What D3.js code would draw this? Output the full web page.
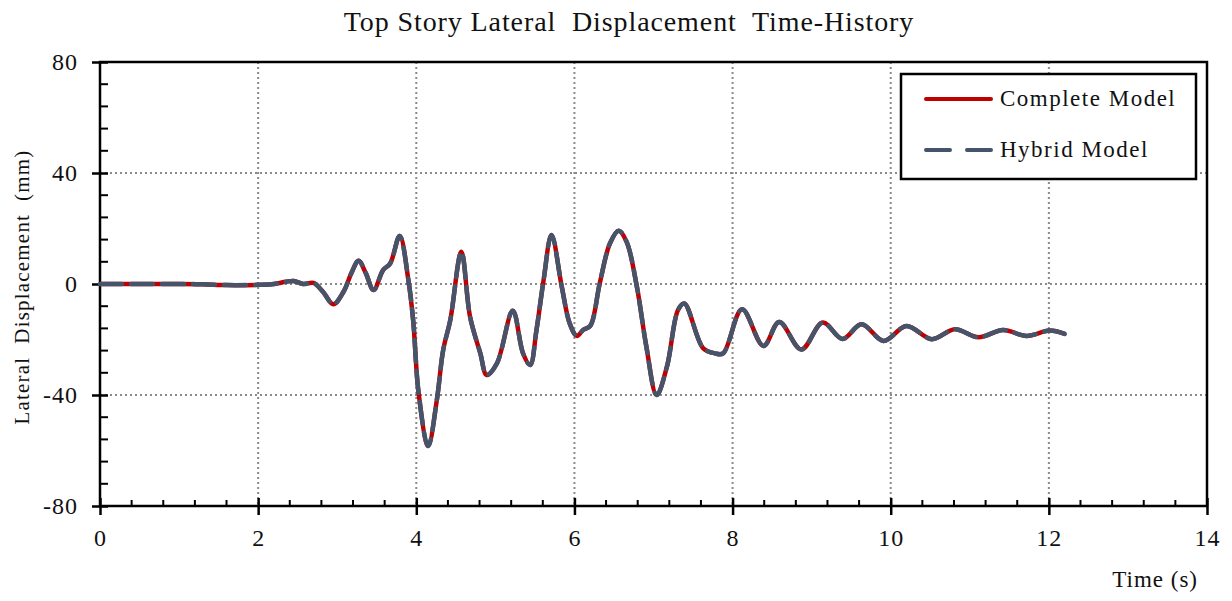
<!DOCTYPE html>
<meta charset="utf-8">
<style>
    body { margin: 0; background: #fff; }
    text { font-family: "Liberation Serif", "DejaVu Serif", serif; fill: #111; }
</style>
<svg width="1232" height="601"></svg>
<script src="https://d3js.org/d3.v7.min.js"></script>
<script>

    // time (s)
    var timeS = [0, 0.5, 1.0, 1.3, 1.6, 2.0, 2.2, 2.35, 2.45, 2.57, 2.7, 2.82, 2.95, 3.08, 3.18, 3.27, 3.36, 3.46,
        3.58, 3.67, 3.79, 3.9, 3.96, 4.03, 4.15, 4.26, 4.34, 4.43, 4.57, 4.68, 4.81, 4.89, 5.02, 5.22, 5.35, 5.44,
        5.52, 5.61, 5.71, 5.84, 5.94, 6.03, 6.11, 6.2, 6.32, 6.45, 6.56, 6.66, 6.79, 6.91, 7.04, 7.17, 7.31, 7.39,
        7.63, 7.78, 7.88, 8.12, 8.39, 8.59, 8.87, 9.14, 9.39, 9.63, 9.91, 10.2, 10.52, 10.81, 11.11, 11.42, 11.72,
        12.01, 12.2];

    // lateral displacement (mm)
    var completeMm = [0, 0, 0, -0.1, -0.4, -0.3, 0, 0.8, 1.1, 0, 0.4, -2.8, -7.3, -2.8, 4, 8.4, 4, -2.2,
        5, 7.4, 17.3, 1.4, -13, -39.4, -58.4, -41.8, -23.8, -13, 11.6, -11.8, -25, -32.8, -28.6, -9.6, -25, -29.2,
        -16.6, 1.4, 17.7, -1, -14.2, -18.7, -16.6, -15.1, 0.2, 14.7, 19.2, 15.2, -1, -22.6, -40, -29.8, -9.4, -7,
        -23.2, -25, -25, -9.1, -22.3, -13.7, -23.6, -13.9, -19.8, -14.5, -20.5, -15.1, -19.9, -16.3, -19.2, -16.6, -18.7,
        -16.8, -18];

    // hybrid model follows the complete model in the picture
    var hybridMm = completeMm.slice();

    var xTicks = [0, 2, 4, 6, 8, 10, 12, 14];
    var yTicks = [-80, -40, 0, 40, 80];
    var seriesNames = ["Complete Model", "Hybrid Model"];

    var svg = d3.select("svg"),
        margin = { top: 62, right: 25, bottom: 95, left: 100 },
        width = 1207 - margin.left,
        height = 506 - margin.top,
        g = svg.append("g").attr("transform", "translate(" + margin.left + "," + margin.top + ")");

    var x = d3.scaleLinear().domain([0, 14]).range([0, width]);
    var y = d3.scaleLinear().domain([-80, 80]).range([height, 0]);

    // dotted grid
    g.selectAll(".vgrid")
        .data(xTicks.filter(d => d > 0 && d < 14))
        .enter().append("line")
        .attr("x1", d => x(d)).attr("x2", d => x(d))
        .attr("y1", 0).attr("y2", height)
        .attr("stroke", "#8a8a8a").attr("stroke-width", 2).attr("stroke-dasharray", "2,3");
    g.selectAll(".hgrid")
        .data(yTicks.filter(d => d > -80 && d < 80))
        .enter().append("line")
        .attr("x1", 0).attr("x2", width)
        .attr("y1", d => y(d)).attr("y2", d => y(d))
        .attr("stroke", "#8a8a8a").attr("stroke-width", 2).attr("stroke-dasharray", "2,3");

    // frame
    g.append("rect")
        .attr("width", width).attr("height", height)
        .attr("fill", "none").attr("stroke", "#000").attr("stroke-width", 2.5);

    // minor ticks (inward)
    var xMinor = d3.range(0, 14.001, 0.4).filter(d => Math.abs(d / 2 - Math.round(d / 2)) > 0.01);
    g.selectAll(".xminor").data(xMinor).enter().append("line")
        .attr("x1", d => x(d)).attr("x2", d => x(d))
        .attr("y1", height).attr("y2", height - 6)
        .attr("stroke", "#000").attr("stroke-width", 2);
    var yMinor = d3.range(-80, 80.001, 8).filter(d => d % 40 !== 0);
    g.selectAll(".yminor").data(yMinor).enter().append("line")
        .attr("x1", 0).attr("x2", 8)
        .attr("y1", d => y(d)).attr("y2", d => y(d))
        .attr("stroke", "#000").attr("stroke-width", 2);

    // axes with crossing major ticks
    var xAxis = g.append("g")
        .attr("transform", "translate(0," + height + ")")
        .call(d3.axisBottom(x).tickValues(xTicks).tickSize(9).tickPadding(14));
    xAxis.selectAll(".tick line").attr("y1", -8).attr("stroke-width", 2.5);
    xAxis.select(".domain").remove();
    xAxis.selectAll("text").attr("font-size", 24).attr("letter-spacing", 1)
        .style("font-family", "Liberation Serif").style("fill", "#111");

    var yAxis = g.append("g")
        .call(d3.axisLeft(y).tickValues(yTicks).tickSize(8).tickPadding(14)
            .tickFormat(d => String(d)));
    yAxis.selectAll(".tick line").attr("x1", 8).attr("stroke-width", 2.5);
    yAxis.select(".domain").remove();
    yAxis.selectAll("text").attr("font-size", 24).attr("letter-spacing", 1)
        .style("font-family", "Liberation Serif").style("fill", "#111");

    // series
    var line = d3.line()
        .x(d => x(d[0]))
        .y(d => y(d[1]))
        .curve(d3.curveCatmullRom.alpha(0.5));

    g.append("path")
        .datum(d3.zip(timeS, completeMm))
        .attr("d", line)
        .attr("fill", "none").attr("stroke", "#c00000").attr("stroke-width", 4.5)
        .attr("stroke-linejoin", "round");

    g.append("path")
        .datum(d3.zip(timeS, hybridMm))
        .attr("d", line)
        .attr("fill", "none").attr("stroke", "#44546a").attr("stroke-width", 4.5)
        .attr("stroke-dasharray", "22,9").attr("stroke-linecap", "round")
        .attr("stroke-linejoin", "round");

    // titles
    svg.append("text")
        .attr("x", 629).attr("y", 31)
        .attr("text-anchor", "middle").attr("font-size", 28)
        .attr("letter-spacing", 0.9)
        .attr("xml:space", "preserve")
        .text("Top Story Lateral  Displacement  Time-History");

    svg.append("text")
        .attr("transform", "translate(29,287) rotate(-90)")
        .attr("text-anchor", "middle").attr("font-size", 21)
        .attr("letter-spacing", 1.2)
        .attr("xml:space", "preserve")
        .text("Lateral  Displacement  (mm)");

    svg.append("text")
        .attr("x", 1198).attr("y", 587)
        .attr("text-anchor", "end").attr("font-size", 23)
        .attr("letter-spacing", 1)
        .text("Time (s)");

    // legend
    var legend = svg.append("g").attr("transform", "translate(901,74)");
    legend.append("rect")
        .attr("width", 295).attr("height", 105)
        .attr("fill", "#fff").attr("stroke", "#000").attr("stroke-width", 2.5);
    var colors = ["#c00000", "#44546a"];
    var dashes = [null, "24,17"];
    seriesNames.forEach(function (name, i) {
        var yy = 25 + i * 51;
        legend.append("line")
            .attr("x1", 25).attr("x2", 90).attr("y1", yy).attr("y2", yy)
            .attr("stroke", colors[i]).attr("stroke-width", 4)
            .attr("stroke-linecap", "round")
            .attr("stroke-dasharray", dashes[i]);
        legend.append("text")
            .attr("x", 99).attr("y", yy + 7)
            .attr("font-size", 23)
            .attr("letter-spacing", 1.5)
            .text(name);
    });

</script>
